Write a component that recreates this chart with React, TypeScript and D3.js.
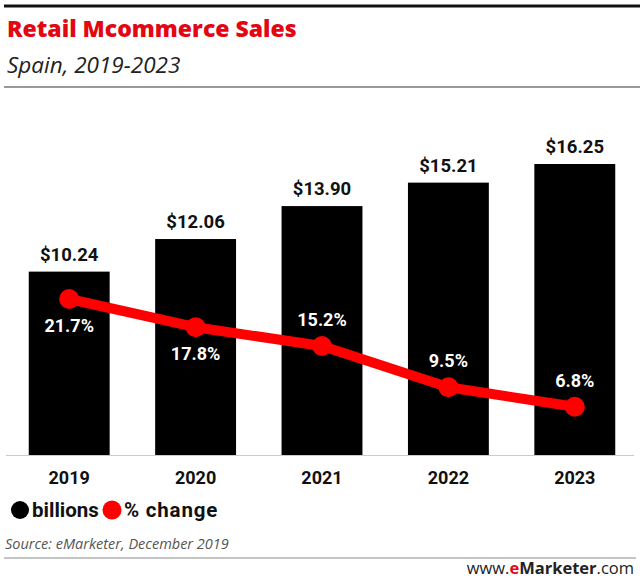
import React from "react";
import * as d3 from "d3";

const years = ["2019", "2020", "2021", "2022", "2023"];
const billions = [10.24, 12.06, 13.9, 15.21, 16.25];
const pctChange = [21.7, 17.8, 15.2, 9.5, 6.8];
const pctLabelBelow = [true, true, false, false, false];

const W = 640;
const H = 580;

export default function App() {
  const x = d3.scaleBand<string>().domain(years).range([6, 638]).paddingInner(0.36).paddingOuter(0.18);
  const y = d3.scaleLinear().domain([0, 16.25]).range([455, 164]);
  const yp = d3.scaleLinear().domain([0, 21.7]).range([456, 299]);
  const cx = (i: number) => (x(years[i]) as number) + x.bandwidth() / 2;
  const line = d3
    .line<number>()
    .x((_, i) => cx(i))
    .y((d) => yp(d));

  const labelFont = "Roboto, 'Open Sans', sans-serif";

  return (
    <svg width={W} height={H} style={{ position: "absolute", left: 0, top: 0, background: "#fff" }}>
      <line x1={4} x2={640} y1={6} y2={6} stroke="#111" strokeWidth={3} />
      <text x={7} y={37} fill="#e30613" fontFamily="'Open Sans', sans-serif" fontWeight={800} fontSize={23}>
        Retail Mcommerce Sales
      </text>
      <text x={7} y={73} fill="#222" fontFamily="'Open Sans', sans-serif" fontStyle="italic" fontSize={22.5}>
        Spain, 2019-2023
      </text>
      <line x1={4} x2={640} y1={87} y2={87} stroke="#999" strokeWidth={2} />

      {billions.map((v, i) => (
        <g key={years[i]}>
          <rect x={x(years[i])} y={y(v)} width={x.bandwidth()} height={y(0) - y(v)} fill="#000" />
          <text
            x={cx(i)}
            y={y(v) - 11}
            textAnchor="middle"
            fontFamily={labelFont}
            fontWeight={700}
            fontSize={18.5}
            fill="#111"
          >
            ${v.toFixed(2)}
          </text>
          <text
            x={cx(i)}
            y={484}
            textAnchor="middle"
            fontFamily={labelFont}
            fontWeight={700}
            fontSize={18}
            fill="#111"
          >
            {years[i]}
          </text>
        </g>
      ))}
      <line x1={6} x2={634} y1={455.5} y2={455.5} stroke="#ccc" strokeWidth={1} />

      <path d={line(pctChange) || ""} fill="none" stroke="#ff0000" strokeWidth={10} strokeLinejoin="round" />
      {pctChange.map((v, i) => (
        <g key={"p" + i}>
          <circle cx={cx(i)} cy={yp(v)} r={10} fill="#ff0000" />
          <text
            x={cx(i)}
            y={pctLabelBelow[i] ? yp(v) + 33 : yp(v) - 20}
            textAnchor="middle"
            fontFamily={labelFont}
            fontWeight={700}
            fontSize={18}
            fill="#fff"
          >
            {v.toFixed(1)}%
          </text>
        </g>
      ))}

      <circle cx={20} cy={510} r={9} fill="#000" />
      <text x={32} y={517} fontFamily={labelFont} fontWeight={700} fontSize={20.5} fill="#111">
        billions
      </text>
      <circle cx={112} cy={510} r={9.5} fill="#ff0000" />
      <text x={124} y={517} fontFamily={labelFont} fontWeight={700} fontSize={20.5} fill="#111" letterSpacing={0.8}>
        % change
      </text>

      <text x={5} y={549} fontFamily="'Open Sans', sans-serif" fontStyle="italic" fontSize={14.5} fill="#555">
        Source: eMarketer, December 2019
      </text>
      <line x1={4} x2={636} y1={558} y2={558} stroke="#888" strokeWidth={1} />
      <text x={634} y={574} textAnchor="end" fontFamily="'Open Sans', sans-serif" fontSize={16.5} fill="#222">
        www.
        <tspan fill="#e30613" fontWeight={700}>e</tspan>
        <tspan fontWeight={700}>Marketer</tspan>
        .com
      </text>
    </svg>
  );
}
